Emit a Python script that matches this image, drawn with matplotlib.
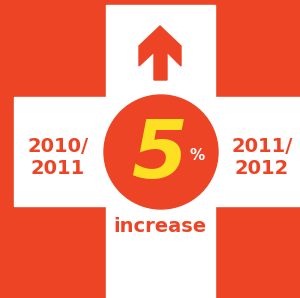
import matplotlib
matplotlib.use("Agg")
import matplotlib.pyplot as plt
from matplotlib.patches import Rectangle, Circle, Polygon

# data
years = ["2010/\n2011", "2011/\n2012"]
pct_change = 5
label = "increase"

red = "#EE4426"
yellow = "#FDE021"

fig = plt.figure(figsize=(3.0, 2.98), dpi=100)
ax = fig.add_axes([0, 0, 1, 1])
ax.set_xlim(0, 300)
ax.set_ylim(298, 0)
ax.axis("off")
fig.patch.set_facecolor(red)

# white cross
ax.add_patch(Rectangle((106, 5), 109, 300, color="white"))
ax.add_patch(Rectangle((14, 97), 300, 109, color="white"))

# up arrow
arrow = [(160, 26), (181, 46), (181, 66), (167, 52), (167, 80),
         (154, 80), (154, 52), (139, 66), (139, 46)]
ax.add_patch(Polygon(arrow, closed=True, color=red))

# circle with value
ax.add_patch(Circle((161, 152), 57, color=red))
ax.text(160, 156, str(pct_change), color=yellow, fontsize=58, fontweight="heavy",
        style="italic", ha="center", va="center")
ax.text(197, 155, "%", color="white", fontsize=11, fontweight="bold",
        ha="center", va="center")

ax.text(58, 157, years[0], color=red, fontsize=14, fontweight="heavy",
        ha="center", va="center", linespacing=1.2)
ax.text(262, 157, years[1], color=red, fontsize=14, fontweight="heavy",
        ha="center", va="center", linespacing=1.2)
ax.text(160, 227, label, color=red, fontsize=14, fontweight="heavy",
        ha="center", va="center")

fig.savefig("out.png", dpi=100, facecolor=red)
